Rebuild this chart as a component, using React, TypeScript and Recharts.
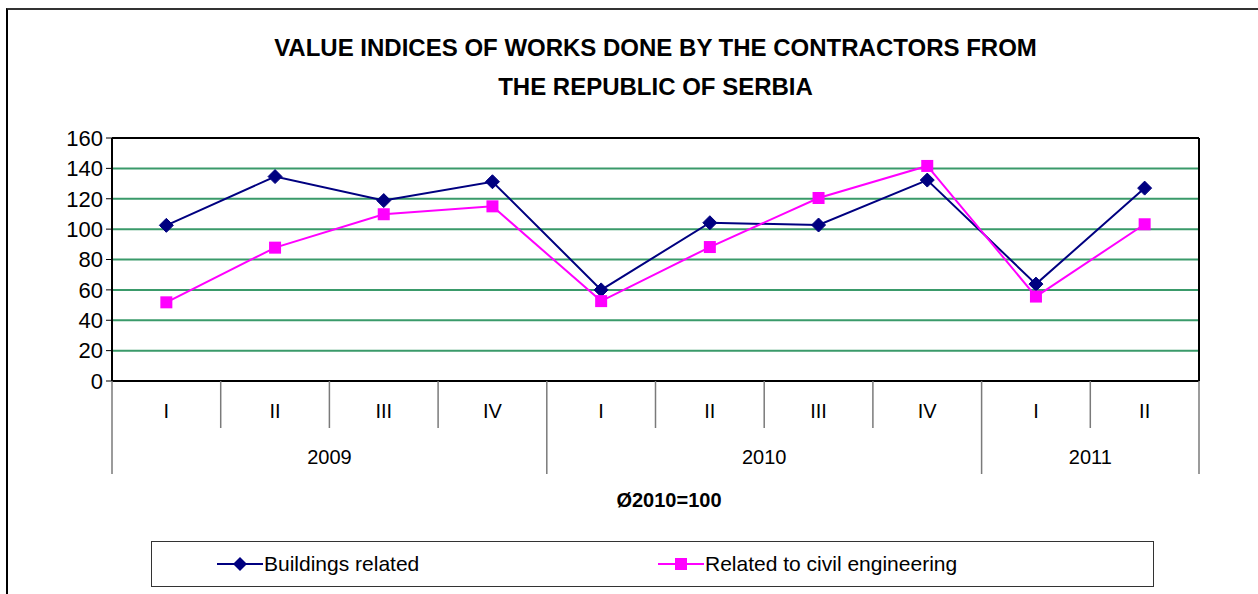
import React from "react";
import {
  LineChart,
  Line,
  XAxis,
  YAxis,
  CartesianGrid,
} from "recharts";

// ---------- data ----------
const QUARTERS = ["I", "II", "III", "IV", "I", "II", "III", "IV", "I", "II"];
const YEARS = ["2009", "2009", "2009", "2009", "2010", "2010", "2010", "2010", "2011", "2011"];
const BUILDINGS = [102.5, 134.6, 118.8, 131.2, 60.0, 104.2, 102.7, 132.3, 63.8, 127.0];
const CIVIL = [51.8, 87.8, 109.8, 115.0, 52.6, 88.2, 120.5, 141.6, 55.6, 103.2];
const Y_TICKS = [0, 20, 40, 60, 80, 100, 120, 140, 160];
const TITLE_LINES = [
  "VALUE INDICES OF WORKS DONE BY THE CONTRACTORS FROM",
  "THE REPUBLIC OF SERBIA",
];
const SUBTITLE = "Ø2010=100";
const SERIES_NAMES = ["Buildings related", "Related to civil engineering"];

const data = QUARTERS.map((q, i) => ({
  id: `${YEARS[i]}-${q}-${i}`,
  buildings: BUILDINGS[i],
  civil: CIVIL[i],
}));

// ---------- layout ----------
const W = 1258;
const H = 594;
const PLOT_LEFT = 112;
const PLOT_RIGHT = 1199;
const PLOT_TOP = 138;
const N = QUARTERS.length;
const BAND = (PLOT_RIGHT - PLOT_LEFT) / N;
const FONT = "'Liberation Sans', Arial, sans-serif";
const NAVY = "#000080";
const MAGENTA = "#FF00FF";
const GRID = "#3a9a6a";
const SEP = "#7a7a7a";

const groupSize = (i: number) => {
  let n = 0;
  for (let k = i; k < N && YEARS[k] === YEARS[i]; k++) n++;
  return n;
};

const QuarterTick = (props: any) => {
  const { x, y, payload } = props;
  const i = payload.index;
  const left = x - BAND / 2;
  const isGroupStart = i === 0 || YEARS[i] !== YEARS[i - 1];
  const isLast = i === N - 1;
  return (
    <g>
      <line
        x1={left}
        y1={y}
        x2={left}
        y2={y + (isGroupStart ? 93 : 47)}
        stroke={SEP}
        strokeWidth={1.5}
      />
      {isLast && (
        <line
          x1={left + BAND}
          y1={y}
          x2={left + BAND}
          y2={y + 93}
          stroke={SEP}
          strokeWidth={1.5}
        />
      )}
      <text
        x={x}
        y={y + 37}
        textAnchor="middle"
        fontSize={20}
        fontFamily={FONT}
        fill="#000"
      >
        {QUARTERS[i]}
      </text>
      {isGroupStart && (
        <text
          x={left + (groupSize(i) * BAND) / 2}
          y={y + 83}
          textAnchor="middle"
          fontSize={20}
          fontFamily={FONT}
          fill="#000"
        >
          {YEARS[i]}
        </text>
      )}
    </g>
  );
};

const Diamond = (props: any) => {
  const { cx, cy } = props;
  if (cx == null || cy == null) return <g key={props.key} />;
  return (
    <path
      key={props.key}
      d={`M${cx},${cy - 7}L${cx + 7},${cy}L${cx},${cy + 7}L${cx - 7},${cy}Z`}
      fill={NAVY}
      stroke={NAVY}
    />
  );
};

const Square = (props: any) => {
  const { cx, cy } = props;
  if (cx == null || cy == null) return <g key={props.key} />;
  return (
    <rect
      key={props.key}
      x={cx - 6}
      y={cy - 6}
      width={12}
      height={12}
      fill={MAGENTA}
    />
  );
};

export default function App() {
  return (
    <div
      style={{
        position: "absolute",
        left: 0,
        top: 0,
        width: W,
        height: H,
        overflow: "hidden",
        background: "#fff",
        fontFamily: FONT,
      }}
    >
      {/* outer frame */}
      <div
        style={{
          position: "absolute",
          left: 6,
          top: 8,
          width: W + 20,
          height: H + 20,
          borderLeft: "2px solid #000",
          borderTop: "2px solid #333",
        }}
      />
      {/* title */}
      {TITLE_LINES.map((t, i) => (
        <div
          key={i}
          style={{
            position: "absolute",
            left: 0,
            width: PLOT_LEFT + PLOT_RIGHT,
            top: 33 + i * 39,
            textAlign: "center",
            fontWeight: "bold",
            fontSize: 24,
            lineHeight: "30px",
            color: "#000",
            whiteSpace: "nowrap",
          }}
        >
          {t}
        </div>
      ))}
      <div style={{ position: "absolute", left: 0, top: 0 }}>
        <LineChart
          width={W}
          height={H}
          data={data}
          margin={{ top: PLOT_TOP - 1, right: W - PLOT_RIGHT - 1, bottom: 113, left: 52 }}
        >
          <CartesianGrid vertical={false} stroke={GRID} strokeWidth={2} />
          <XAxis
            dataKey="id"
            height={100}
            interval={0}
            padding={{ left: BAND / 2, right: BAND / 2 }}
            tickLine={false}
            tickSize={0}
            tickMargin={0}
            axisLine={{ stroke: "#000", strokeWidth: 2 }}
            tick={<QuarterTick />}
          />
          <XAxis
            xAxisId="top"
            orientation="top"
            dataKey="id"
            height={1}
            tick={false}
            tickLine={false}
            axisLine={{ stroke: "#000", strokeWidth: 2 }}
          />
          <YAxis
            width={60}
            domain={[0, 160]}
            ticks={Y_TICKS}
            interval={0}
            tickSize={6}
            tickMargin={3}
            tickLine={{ stroke: "#000", strokeWidth: 1 }}
            axisLine={{ stroke: "#000", strokeWidth: 2 }}
            tick={{ fill: "#000", fontSize: 22, fontFamily: FONT }}
          />
          <YAxis
            yAxisId="right"
            orientation="right"
            width={1}
            domain={[0, 160]}
            tick={false}
            tickLine={false}
            axisLine={{ stroke: "#000", strokeWidth: 2 }}
          />
          <Line
            dataKey="buildings"
            name={SERIES_NAMES[0]}
            stroke={NAVY}
            strokeWidth={2}
            dot={Diamond}
            activeDot={false}
            isAnimationActive={false}
          />
          <Line
            dataKey="civil"
            name={SERIES_NAMES[1]}
            stroke={MAGENTA}
            strokeWidth={2}
            dot={Square}
            activeDot={false}
            isAnimationActive={false}
          />
        </LineChart>
      </div>
      {/* subtitle */}
      <div
        style={{
          position: "absolute",
          left: 569,
          width: 200,
          top: 488,
          textAlign: "center",
          fontWeight: "bold",
          fontSize: 20,
          lineHeight: "24px",
          color: "#000",
        }}
      >
        {SUBTITLE}
      </div>
      {/* legend */}
      <div
        style={{
          position: "absolute",
          left: 151,
          top: 541,
          width: 1001,
          height: 44,
          border: "1px solid #333",
        }}
      />
      {SERIES_NAMES.map((name, i) => {
        const x0 = i === 0 ? 217 : 658;
        const color = i === 0 ? NAVY : MAGENTA;
        return (
          <div key={name}>
            <svg
              style={{ position: "absolute", left: x0, top: 554 }}
              width={48}
              height={20}
            >
              <line x1={0} y1={10} x2={46} y2={10} stroke={color} strokeWidth={2} />
              {i === 0 ? (
                <path d="M23,3L30,10L23,17L16,10Z" fill={color} />
              ) : (
                <rect x={17} y={4} width={12} height={12} fill={color} />
              )}
            </svg>
            <div
              style={{
                position: "absolute",
                left: x0 + 47,
                top: 550,
                fontSize: 21,
                lineHeight: "27px",
                color: "#000",
                whiteSpace: "nowrap",
              }}
            >
              {name}
            </div>
          </div>
        );
      })}
    </div>
  );
}
